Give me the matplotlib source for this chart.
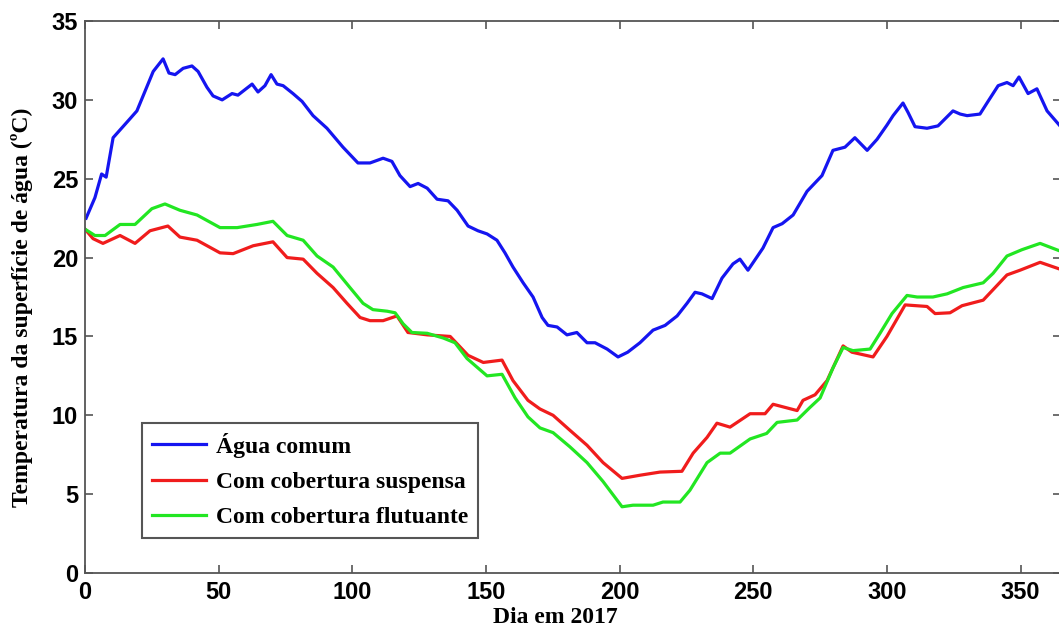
import matplotlib
matplotlib.use("Agg")
import matplotlib.pyplot as plt

# dia do ano e temperatura (ºC) lidos para cada serie
dia_azul = [0.4, 3.7, 6.2, 7.9, 10.5, 16.8, 19.4, 25.5, 29.2, 31.4, 33.7, 36.7, 40, 42.3,
            45.6, 47.9, 51.3, 55, 57.2, 62.5, 64.7, 67.3, 69.6, 71.8, 74.1, 77.8, 81.2,
            85.3, 90.5, 96.5, 102.1, 106.6, 111.5, 114.8, 117.8, 121.6, 124.6, 128,
            131.7, 135.8, 139.2, 143.3, 147, 150.4, 154.1, 157.1, 160.1, 163.9, 167.6,
            171, 173.2, 176.6, 180.3, 184, 187.8, 190.8, 195.3, 199.4, 203, 207.6,
            212.5, 217, 221.5, 225.2, 228.2, 230.8, 234.6, 238.3, 242.4, 245, 248,
            253.6, 257.4, 260.8, 264.9, 270.1, 275.7, 279.8, 284.3, 288, 292.6, 296.3,
            300, 302.3, 306, 307.9, 310.5, 315, 319.1, 324.7, 327.4, 330, 334.8, 337.8,
            341.6, 344.9, 347.2, 349.4, 352.8, 356.1, 359.9, 365]
agua_comum = [22.5, 23.8, 25.3, 25.1, 27.6, 28.8, 29.3, 31.8, 32.6, 31.7, 31.6, 32.0, 32.15,
              31.8, 30.8, 30.25, 30.0, 30.4, 30.3, 31.0, 30.5, 30.9, 31.6, 31.0, 30.9,
              30.4, 29.9, 29.0, 28.2, 27.0, 26.0, 26.0, 26.3, 26.1, 25.2, 24.5, 24.7,
              24.4, 23.7, 23.6, 23.0, 22.0, 21.7, 21.5, 21.1, 20.3, 19.4, 18.4, 17.5,
              16.2, 15.7, 15.6, 15.1, 15.25, 14.6, 14.6, 14.2, 13.7, 14.0, 14.6, 15.4,
              15.7, 16.3, 17.1, 17.8, 17.7, 17.4, 18.7, 19.6, 19.9, 19.2, 20.6, 21.9,
              22.15, 22.7, 24.2, 25.2, 26.8, 27.0, 27.6, 26.8, 27.5, 28.4, 29.0, 29.8,
              29.2, 28.3, 28.2, 28.35, 29.3, 29.1, 29.0, 29.1, 29.9, 30.9, 31.1, 30.9,
              31.45, 30.4, 30.7, 29.3, 28.3]

dia_verm = [0, 3, 6.7, 13.1, 18.7, 24.3, 31, 35.5, 41.9, 50.5, 55.4, 62.9, 70.3, 75.6,
            81.6, 86.8, 92.8, 98, 102.9, 106.6, 111.5, 116.7, 120.8, 128, 136.6, 143.3,
            149, 156, 160.1, 165.7, 170.2, 175.1, 181.4, 187.8, 193.8, 200.9, 207.6,
            215.1, 223.3, 227.5, 232.7, 236.4, 241.3, 248.8, 254.4, 257.4, 266.4, 268.6,
            273.1, 277.6, 283.6, 286.9, 294.8, 300, 306.8, 315, 318, 323.6, 328.1, 336,
            344.9, 349.8, 357.3, 365]
cob_suspensa = [21.8, 21.2, 20.9, 21.4, 20.9, 21.7, 22.0, 21.3, 21.1, 20.3, 20.25, 20.75,
                21.0, 20.0, 19.9, 19.0, 18.1, 17.1, 16.2, 16.0, 16.0, 16.3, 15.25, 15.1,
                15.0, 13.8, 13.35, 13.5, 12.2, 10.95, 10.4, 10.0, 9.05, 8.1, 7.0, 6.0,
                6.2, 6.4, 6.45, 7.6, 8.6, 9.5, 9.25, 10.1, 10.1, 10.7, 10.3, 10.95, 11.3,
                12.2, 14.4, 14.0, 13.7, 15.0, 17.0, 16.9, 16.45, 16.5, 16.95, 17.3, 18.9,
                19.2, 19.7, 19.25]

dia_verde = [0, 3.7, 7.5, 13.1, 18.7, 25, 29.9, 35.5, 41.9, 50.5, 56.9, 64.3, 70.3, 75.6,
             81.6, 86.8, 92.8, 99.1, 104, 107.7, 113, 116, 119, 122.3, 128, 134, 138.4,
             142.9, 150.4, 156, 160.9, 165.7, 170.2, 175.1, 181.4, 187.8, 193.8, 200.9,
             205, 212.5, 216.2, 222.6, 226.3, 232.7, 237.6, 241.3, 248.8, 255, 258.9,
             266.4, 271.2, 275, 279.8, 283.6, 287.3, 293.7, 297.4, 301.9, 307.5, 311.3,
             317.2, 322.5, 328.5, 336, 339.7, 344.9, 350.5, 357.3, 365]
cob_flutuante = [21.8, 21.4, 21.4, 22.1, 22.1, 23.1, 23.4, 23.0, 22.7, 21.9, 21.9, 22.1,
                 22.3, 21.4, 21.1, 20.1, 19.4, 18.1, 17.1, 16.7, 16.6, 16.5, 15.8, 15.25,
                 15.2, 14.9, 14.6, 13.6, 12.5, 12.6, 11.1, 9.9, 9.2, 8.9, 8.0, 7.0, 5.8,
                 4.2, 4.3, 4.3, 4.5, 4.5, 5.25, 7.0, 7.6, 7.6, 8.5, 8.85, 9.55, 9.7, 10.5,
                 11.1, 13.0, 14.3, 14.1, 14.2, 15.2, 16.45, 17.6, 17.5, 17.5, 17.7, 18.1,
                 18.4, 19.0, 20.1, 20.5, 20.9, 20.4]

x_ticks = [0, 50, 100, 150, 200, 250, 300, 350]
y_ticks = [0, 5, 10, 15, 20, 25, 30, 35]

serif = ["Liberation Serif", "DejaVu Serif"]

fig = plt.figure(figsize=(10.59, 6.31), dpi=100)
ax = fig.add_axes([0.0803, 0.0919, 0.9213, 0.8748])

ax.plot(dia_azul, agua_comum, color="#1515f0", lw=2.3, label="Água comum")
ax.plot(dia_verm, cob_suspensa, color="#f01c1c", lw=2.3, label="Com cobertura suspensa")
ax.plot(dia_verde, cob_flutuante, color="#22e622", lw=2.3, label="Com cobertura flutuante")

ax.set_xlim(0, 365)
ax.set_ylim(0, 35)
ax.set_xticks(x_ticks)
ax.set_yticks(y_ticks)
for s in ax.spines.values():
    s.set_color("#555555")
    s.set_linewidth(1.3)
ax.tick_params(direction="in", length=6, width=1.2, color="#555555",
               top=True, right=True)
ax.tick_params(axis="x", pad=6)
ax.tick_params(axis="y", pad=5)
for lab in ax.get_xticklabels() + ax.get_yticklabels():
    lab.set_family("Liberation Sans")
    lab.set_fontweight("bold")
    lab.set_fontsize(17)

ax.set_xlabel("Dia em 2017", family=serif, fontweight="bold", fontsize=17)
ax.set_ylabel("Temperatura da superfície de água (ºC)", family=serif,
              fontweight="bold", fontsize=17)
ax.xaxis.set_label_coords(0.482, -0.062)
ax.yaxis.set_label_coords(-0.053, 0.482)

leg = ax.legend(loc="lower left", bbox_to_anchor=(0.0584, 0.0634), fancybox=False,
                prop={"family": serif, "weight": "bold", "size": 17},
                handlelength=2.3, handletextpad=0.4, labelspacing=0.58,
                borderpad=0.42, borderaxespad=0, framealpha=1)
leg.get_frame().set_edgecolor("#555555")
leg.get_frame().set_linewidth(1.5)

fig.savefig("out.png", dpi=100)
